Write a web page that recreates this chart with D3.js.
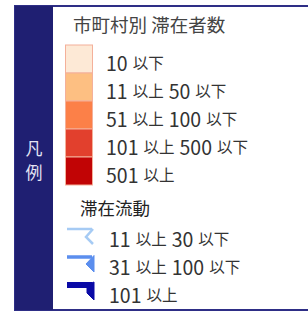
<!DOCTYPE html>
<html><head><meta charset="utf-8">
<script src="https://cdn.jsdelivr.net/npm/d3@7"></script>
<style>html,body{margin:0;padding:0;background:#fff;}</style>
</head><body>
<script>
const legendTitle = "凡例";
const areaTitle = "市町村別 滞在者数";
const areaLabels = ["10 以下", "11 以上 50 以下", "51 以上 100 以下", "101 以上 500 以下", "501 以上"];
const areaColors = ["#fde9d6", "#fdbf82", "#fc8048", "#e2402d", "#c10405"];
const flowTitle = "滞在流動";
const flowLabels = ["11 以上 30 以下", "31 以上 100 以下", "101 以上"];
const flowColors = ["#a6cbf4", "#5b8eee", "#0a0aa6"];
const flowWidths = [2.5, 3.5, 6];

const W = 308, H = 312;
const font = "'Noto Sans CJK JP', 'Noto Sans', sans-serif";
const svg = d3.select("body").append("svg").attr("width", W).attr("height", H);

// frame
svg.append("rect").attr("x", 15).attr("y", 6).attr("width", W + 10).attr("height", 304)
  .attr("fill", "#fff").attr("stroke", "#2e2e86").attr("stroke-width", 2);
svg.append("rect").attr("x", 15).attr("y", 6).attr("width", 38).attr("height", 304).attr("fill", "#1f1f72");
svg.selectAll("text.lt").data(legendTitle.split("")).join("text").attr("class", "lt")
  .attr("x", 34).attr("y", (d, i) => 147 + i * 24).attr("text-anchor", "middle").attr("dominant-baseline", "central")
  .attr("font-family", font).attr("font-size", 17).attr("fill", "#e4e4f4").text(d => d);

function richLabel(sel, label) {
  const parts = label.split(" ");
  parts.forEach((p, i) => {
    const isNum = /^[0-9]+$/.test(p);
    sel.append("tspan").attr("dx", i === 0 ? 0 : 5).attr("font-size", isNum ? 19.5 : 15.5).text(p);
  });
}

svg.append("text").attr("x", 73).attr("y", 24).attr("dominant-baseline", "central")
  .attr("font-family", font).attr("font-size", 18.5).attr("fill", "#444").text(areaTitle);

const yA = d3.scaleBand().domain(areaLabels).range([45, 185]);
svg.selectAll("rect.sw").data(areaLabels).join("rect").attr("class", "sw")
  .attr("x", 65.5).attr("y", d => yA(d)).attr("width", 27).attr("height", yA.bandwidth())
  .attr("fill", (d, i) => areaColors[i]).attr("stroke", "#f4b09a").attr("stroke-width", 1);
svg.selectAll("text.al").data(areaLabels).join("text").attr("class", "al")
  .attr("x", 106).attr("y", d => yA(d) + yA.bandwidth() / 2 + 3).attr("dominant-baseline", "central")
  .attr("font-family", font).attr("fill", "#333")
  .each(function (d) { richLabel(d3.select(this), d); });

svg.append("text").attr("x", 80).attr("y", 207).attr("dominant-baseline", "central")
  .attr("font-family", font).attr("font-size", 17.5).attr("fill", "#222").text(flowTitle);

const yF = d3.scaleBand().domain(flowLabels).range([224, 308]);
flowLabels.forEach((d, i) => {
  const y0 = yF(d) + 5, w = flowWidths[i], c = flowColors[i];
  svg.append("line").attr("x1", 67).attr("x2", 92).attr("y1", y0).attr("y2", y0)
    .attr("stroke", c).attr("stroke-width", w);
  if (i === 0) {
    svg.append("path").attr("d", `M93,${y0} L86,${y0 + 8} L93,${y0 + 15}`)
      .attr("fill", "none").attr("stroke", c).attr("stroke-width", 2.5);
  } else if (i === 1) {
    svg.append("path").attr("d", `M94,${y0 - 1.5} L86,${y0 + 7} L94,${y0 + 15} Z`)
      .attr("fill", c).attr("stroke", c).attr("stroke-width", 1);
  } else {
    svg.append("path").attr("d", `M87,${y0} L94,${y0 - 3} L94,${y0 + 15} L87,${y0 + 8} Z`)
      .attr("fill", c).attr("stroke", c).attr("stroke-width", 1);
  }
});
svg.selectAll("text.fl").data(flowLabels).join("text").attr("class", "fl")
  .attr("x", 109).attr("y", d => yF(d) + yF.bandwidth() / 2).attr("dominant-baseline", "central")
  .attr("font-family", font).attr("fill", "#333")
  .each(function (d) { richLabel(d3.select(this), d); });
</script>
</body></html>
